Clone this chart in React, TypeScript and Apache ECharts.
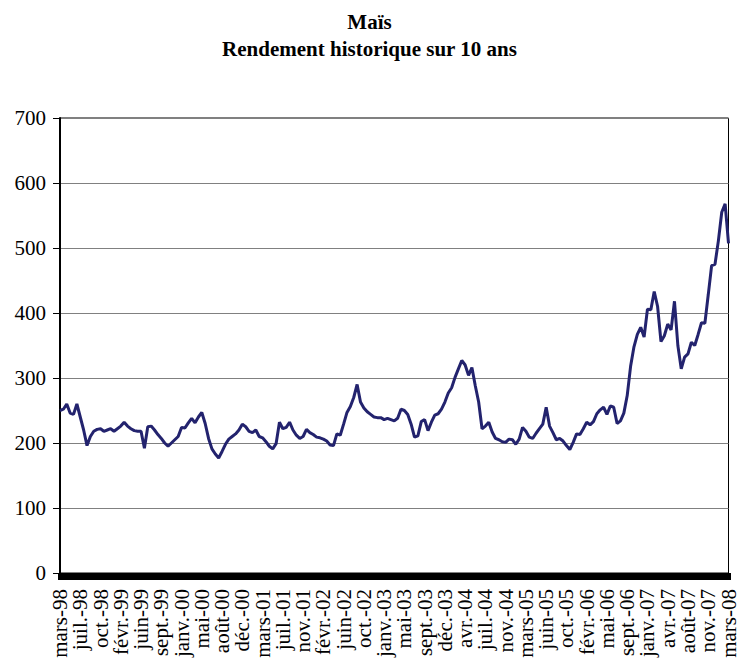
import React, { useEffect, useRef } from "react";
import * as echarts from "echarts";

const titleText = "Maïs";
const subtitleText = "Rendement historique sur 10 ans";

const tickLabels = [
  "mars-98", "juil.-98", "oct.-98", "févr.-99", "juin-99", "sept.-99", "janv.-00", "mai-00",
  "août-00", "déc.-00", "mars-01", "juil.-01", "nov.-01", "févr.-02", "juin-02", "oct.-02",
  "janv.-03", "mai-03", "sept.-03", "déc.-03", "avr.-04", "juil.-04", "nov.-04", "mars-05",
  "juin-05", "oct.-05", "févr.-06", "mai-06", "sept.-06", "janv.-07", "avr.-07", "août-07",
  "nov.-07", "mars-08",
];

// points between two consecutive tick labels
const pointsPerLabel = 6;

const yTicks = [0, 100, 200, 300, 400, 500, 600, 700];

// values (6 readings per labelled interval)
const prices = [
  250, 252, 260, 246, 244, 260,
  240, 220, 196, 210, 218, 221,
  222, 218, 220, 222, 218, 222,
  226, 232, 226, 222, 219, 218,
  218, 192, 225, 226, 220, 213,
  207, 200, 195, 200, 205, 210,
  224, 223, 231, 238, 231, 240,
  247, 230, 207, 191, 183, 177,
  187, 198, 206, 210, 214, 220,
  229, 225, 218, 216, 220, 210,
  208, 202, 195, 191, 199, 232,
  222, 224, 232, 220, 212, 207,
  210, 221, 216, 213, 209, 208,
  206, 203, 197, 196, 214, 212,
  229, 247, 256, 270, 290, 263,
  254, 248, 244, 240, 239, 239,
  236, 238, 236, 234, 238, 252,
  250, 244, 229, 209, 211, 233,
  236, 219, 232, 243, 245, 252,
  263, 277, 285, 301, 314, 327,
  320, 304, 316, 288, 263, 222,
  226, 232, 217, 207, 205, 202,
  201, 206, 205, 198, 206, 224,
  218, 209, 207, 215, 222, 229,
  255, 226, 216, 205, 207, 203,
  196, 190, 201, 214, 213, 222,
  232, 228, 233, 245, 251, 255,
  244, 257, 255, 230, 234, 246,
  273, 318, 348, 367, 378, 363,
  406, 405, 433, 410, 356, 365,
  383, 374, 418, 350, 314, 332,
  337, 355, 350, 367, 385, 384,
  428, 473, 475, 511, 555, 568,
  507,
];

const FONT = "'Liberation Serif', 'Times New Roman', serif";

export default function App() {
  const ref = useRef<HTMLDivElement>(null);

  useEffect(() => {
    document.body.style.margin = "0";
    if (!ref.current) return;
    const chart = echarts.init(ref.current, null, { renderer: "svg" });

    const categories = prices.map((_, i) =>
      i % pointsPerLabel === 0 ? tickLabels[i / pointsPerLabel] : ""
    );

    chart.setOption({
      animation: false,
      backgroundColor: "#ffffff",
      title: {
        text: titleText + "\n" + subtitleText,
        left: "center",
        top: 3,
        textStyle: {
          fontFamily: FONT,
          fontWeight: "bold",
          fontSize: 21,
          lineHeight: 27,
          color: "#000",
          align: "center",
        },
      },
      grid: {
        left: 60,
        right: 8,
        top: 118,
        bottom: 88,
        show: true,
        borderColor: "#000",
        borderWidth: 1,
        backgroundColor: "transparent",
      },
      xAxis: {
        type: "category",
        data: categories,
        boundaryGap: false,
        axisLine: { show: true, lineStyle: { color: "#000", width: 1 } },
        axisTick: {
          show: true,
          interval: 0,
          length: 7,
          lineStyle: { color: "#000", width: 4 },
        },
        axisLabel: {
          interval: 0,
          rotate: 90,
          fontFamily: FONT,
          fontSize: 21,
          color: "#000",
          margin: 16,
        },
        splitLine: { show: false },
      },
      yAxis: {
        type: "value",
        min: yTicks[0],
        max: yTicks[yTicks.length - 1],
        interval: 100,
        axisLine: { show: true, lineStyle: { color: "#000", width: 2 } },
        axisTick: { show: true, length: 7, lineStyle: { color: "#000" } },
        axisLabel: {
          fontFamily: FONT,
          fontSize: 21,
          color: "#000",
          margin: 14,
        },
        splitLine: { show: true, lineStyle: { color: "#808080", width: 1 } },
      },
      series: [
        {
          type: "line",
          data: prices,
          showSymbol: false,
          symbol: "none",
          lineStyle: { color: "#23236E", width: 3 },
          z: 3,
        },
      ],
    });

    return () => chart.dispose();
  }, []);

  return (
    <div
      ref={ref}
      style={{ position: "absolute", left: 0, top: 0, width: 739, height: 661 }}
    />
  );
}
